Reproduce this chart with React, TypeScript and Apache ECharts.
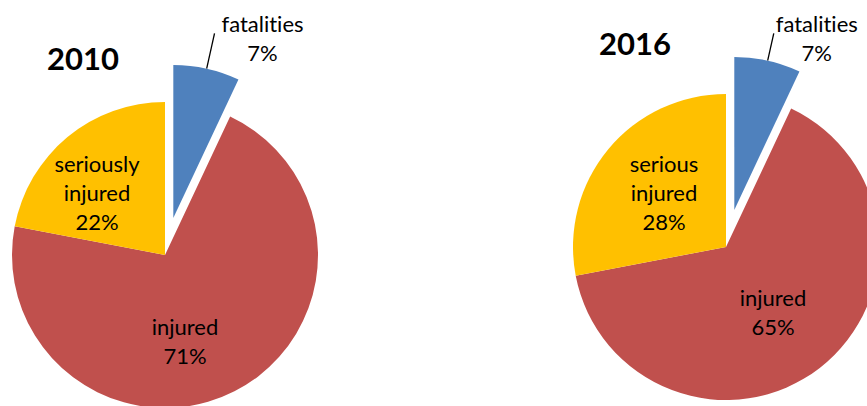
import React, { useEffect, useRef } from 'react';
import * as echarts from 'echarts';

const years = ['2010', '2016'];
const categories2010 = ['fatalities', 'injured', 'seriously\ninjured'];
const categories2016 = ['fatalities', 'injured', 'serious\ninjured'];
const values2010 = [7, 71, 22];
const values2016 = [7, 65, 28];
const colors = ['#4F81BD', '#C0504D', '#FFC000'];

const FONT = 'Lato';

function buildSeries(
  names: string[],
  values: number[],
  center: number[],
  insideOffsets: number[][],
  lineLen: number,
  labelDist: number
) {
  return {
    type: 'pie',
    center,
    radius: 153,
    startAngle: 90,
    clockwise: true,
    selectedMode: 'single',
    selectedOffset: 38,
    avoidLabelOverlap: false,
    silent: true,
    emphasis: { disabled: true },
    label: { color: '#000', fontFamily: FONT, fontSize: 22, lineHeight: 29 },
    labelLine: { show: false },
    labelLayout: (p: any) => {
      const off = insideOffsets[p.dataIndex];
      if (!off) return {};
      return { x: center[0] + off[0], y: center[1] + off[1], align: 'center', verticalAlign: 'middle' };
    },
    data: values.map((v, i) => {
      const item: any = { value: v, name: names[i], itemStyle: { color: colors[i] } };
      if (i === 0) {
        item.selected = true;
        item.label = {
          position: 'outside',
          distanceToLabelLine: labelDist,
          padding: [10, 0, 0, 0],
          formatter: `{a|${names[i]}}\n{a|${v}%}`,
          rich: { a: { width: 84, align: 'center', fontFamily: FONT, fontSize: 22, lineHeight: 29, color: '#000' } },
        };
        item.labelLine = { show: true, length: lineLen, length2: 0, lineStyle: { color: '#000', width: 1.3 } };
      } else {
        item.label = { position: 'inside', formatter: `${names[i]}\n${v}%` };
      }
      return item;
    }),
  };
}

export default function App() {
  const ref = useRef<HTMLDivElement>(null);
  useEffect(() => {
    if (!ref.current) return;
    const chart = echarts.init(ref.current, undefined, { renderer: 'svg' });
    const titleStyle = { fontFamily: FONT, fontWeight: 'bold', fontSize: 31, fill: '#000', textAlign: 'center', textVerticalAlign: 'middle' };
    chart.setOption({
      animation: false,
      backgroundColor: '#fff',
      graphic: [
        { type: 'text', x: 83, y: 58, silent: true, style: { ...titleStyle, text: years[0] } },
        { type: 'text', x: 635, y: 43, silent: true, style: { ...titleStyle, text: years[1] } },
      ],
      series: [
        buildSeries(categories2010, values2010, [165, 255], [null as any, [20, 86], [-68, -63]], 36, 6),
        buildSeries(categories2016, values2016, [726, 247], [null as any, [47, 65], [-62, -55]], 28, 1),
      ],
    });
    return () => chart.dispose();
  }, []);
  return (
    <>
      <style>{`svg text { font-variant-ligatures: none !important; font-feature-settings: "liga" 0, "clig" 0 !important; }`}</style>
      <div ref={ref} style={{ position: 'fixed', left: 0, top: 0, width: 867, height: 406 }} />
    </>
  );
}
